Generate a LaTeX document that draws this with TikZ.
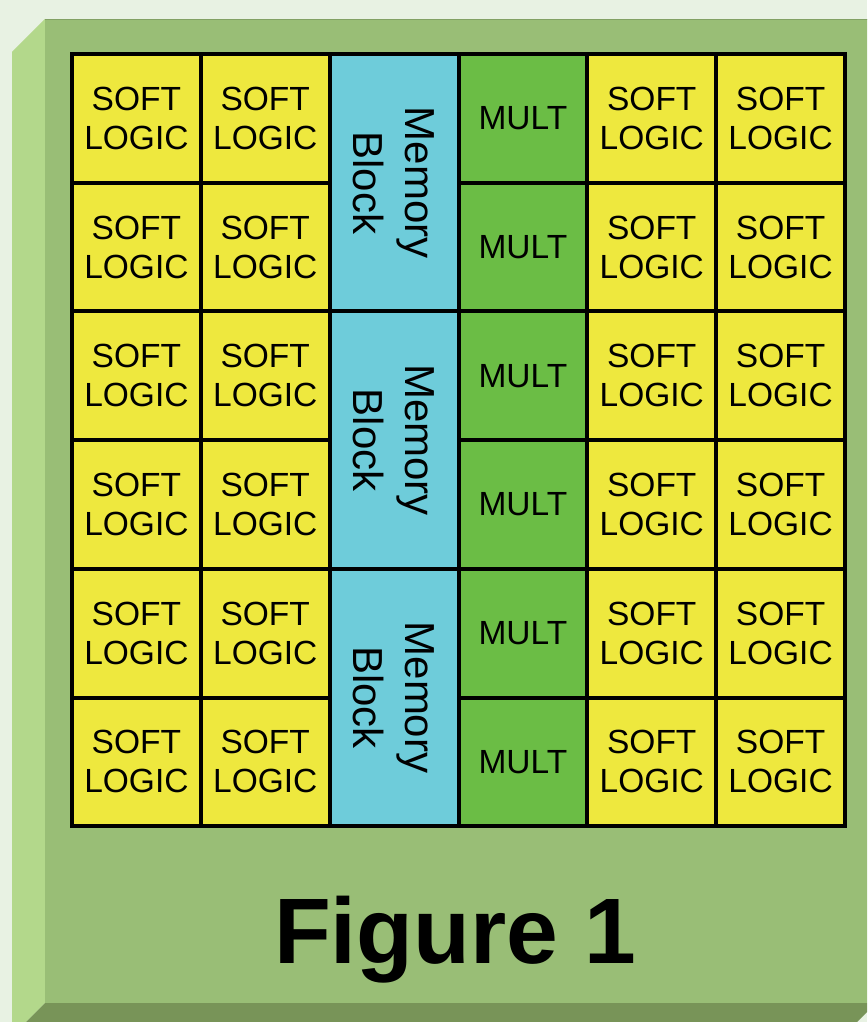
\documentclass[tikz,border=0pt]{standalone}
\usepackage{fontspec}
\setmainfont{Liberation Sans}
\usepackage{tikz}

\definecolor{bgpale}{HTML}{E8F2E3}
\definecolor{boardfront}{HTML}{99BE76}
\definecolor{boardside}{HTML}{B3D88B}
\definecolor{boardbottom}{HTML}{789458}
\definecolor{softyellow}{HTML}{EEE83E}
\definecolor{memcyan}{HTML}{6ECCDA}
\definecolor{multgreen}{HTML}{6BBD45}

\tikzset{
  cell/.style={draw=black, line width=4pt, minimum width=128.8pt,
    minimum height=128.7pt, inner sep=0pt, align=center,
    font=\fontsize{33.5}{39}\selectfont},
  softcell/.style={cell, fill=softyellow},
  multcell/.style={cell, fill=multgreen},
  memcell/.style={cell, fill=memcyan, rotate=-90, minimum width=257.4pt,
    minimum height=128.8pt, font=\fontsize{42}{52}\selectfont},
}

\begin{document}
\begin{tikzpicture}[x=1pt,y=-1pt]
  \useasboundingbox (0,0) rectangle (867,1022);
  \fill[bgpale] (0,0) rectangle (867,1022);
  \clip (0,0) rectangle (867,1022);

  % bevelled board
  \fill[boardside] (45,19) -- (12,52) -- (12,1036) -- (45,1003) -- cycle;
  \fill[boardbottom] (45,1003) -- (876,1003) -- (843,1036) -- (12,1036) -- cycle;
  \fill[boardfront] (45,19) rectangle (876,1003);
  \draw[boardfront!85!black, line width=1.5pt] (45,19.5) -- (876,19.5);

  % logic and multiplier columns
  \foreach \r in {0,...,5} {
    \foreach \c/\cx in {0/136.4, 1/265.25, 4/651.75, 5/780.6} {
      \node[softcell] (soft-\r-\c) at (\cx, 118.35+128.7*\r) {SOFT\\LOGIC};
    }
    \node[multcell] (mult-\r) at (522.9, 118.35+128.7*\r) {MULT};
  }
  % memory blocks, two rows high
  \foreach \k in {0,1,2}
    \node[memcell] (mem-\k) at (394.1, 182.7+257.4*\k) {Memory\\Block};

  \node[anchor=base, font=\fontsize{93}{100}\selectfont\bfseries] (fig)
    at (455,963) {Figure 1};
\end{tikzpicture}
\end{document}
